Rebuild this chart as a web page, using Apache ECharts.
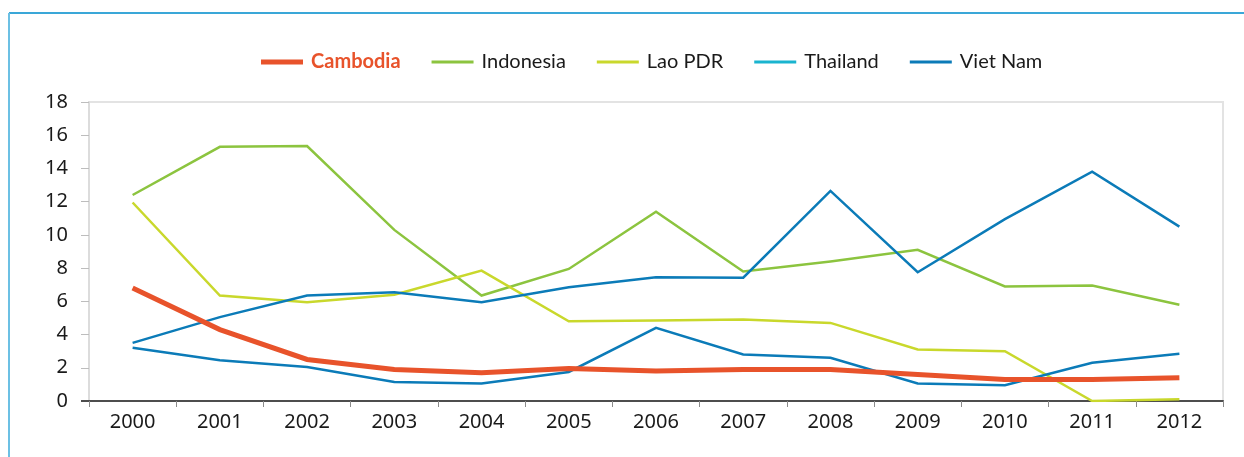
<!DOCTYPE html>
<html>
<head>
<meta charset="utf-8">
<script src="https://cdn.jsdelivr.net/npm/echarts@6/dist/echarts.min.js"></script>
<style>
  html, body { margin: 0; padding: 0; background: #fff; }
  #chart { width: 1244px; height: 457px; }
</style>
</head>
<body>
<div id="chart"></div>
<script>
// Years on the category axis
const years = ['2000', '2001', '2002', '2003', '2004', '2005', '2006',
               '2007', '2008', '2009', '2010', '2011', '2012'];

// Series values per year
const cambodia  = [6.8, 4.3, 2.5, 1.9, 1.7, 1.95, 1.8, 1.9, 1.9, 1.6, 1.3, 1.3, 1.4];
const indonesia = [12.4, 15.3, 15.35, 10.3, 6.35, 7.95, 11.4, 7.8, 8.4, 9.1, 6.9, 6.95, 5.8];
const laoPdr    = [11.95, 6.35, 5.95, 6.4, 7.85, 4.8, 4.85, 4.9, 4.7, 3.1, 3.0, 0.0, 0.1];
const thailand  = [3.2, 2.45, 2.05, 1.15, 1.05, 1.75, 4.4, 2.8, 2.6, 1.05, 0.95, 2.3, 2.85];
const vietNam   = [3.5, 5.05, 6.35, 6.55, 5.95, 6.85, 7.45, 7.42, 12.65, 7.75, 10.95, 13.8, 10.5];

// Y axis range
const yMin = 0, yMax = 18, yStep = 2;

const C_CAMBODIA = '#e8532b';
const C_INDONESIA = '#8cc43f';
const C_LAO = '#c9d82c';
const C_THAI_KEY = '#1ab4cf';
const C_BLUE = '#0b7bb8';

// Flat bar keys for the legend (thick one for Cambodia)
const KEY_THICK = 'path://M0,0h42v5h-42z';
const KEY_THIN = 'path://M0,0h42v3h-42z';

const chart = echarts.init(document.getElementById('chart'), null, { renderer: 'canvas' });

const baseLine = (name, data, color, width, z) => ({
  name, type: 'line', data,
  symbol: 'none', smooth: false, z,
  lineStyle: { color, width, cap: 'butt', join: 'miter' },
  itemStyle: { color },
  emphasis: { disabled: true }
});

chart.setOption({
  animation: false,
  textStyle: { fontFamily: 'Lato' },
  graphic: [
    { type: 'line', silent: true, shape: { x1: 9, y1: 13, x2: 1244, y2: 13 },
      style: { stroke: '#3aa7d8', lineWidth: 2 } },
    { type: 'line', silent: true, shape: { x1: 9, y1: 13, x2: 9, y2: 457 },
      style: { stroke: '#6cc0e4', lineWidth: 2 } },
    // dark zero tick left of the value axis
    { type: 'line', silent: true, z: 10, shape: { x1: 81, y1: 401, x2: 89, y2: 401 },
      style: { stroke: '#4d4d4d', lineWidth: 2 } }
  ],
  legend: {
    top: 47,
    left: 256,
    itemWidth: 42,
    itemHeight: 12,
    itemGap: 31,
    symbolKeepAspect: true,
    textStyle: { fontFamily: 'Lato', fontSize: 20, color: '#1a1a1a', padding: [0, 0, 0, 3] },
    data: [
      { name: 'Cambodia', icon: KEY_THICK, itemStyle: { color: C_CAMBODIA },
        textStyle: { color: C_CAMBODIA, fontWeight: 'bold' } },
      { name: 'Indonesia', icon: KEY_THIN, itemStyle: { color: C_INDONESIA } },
      { name: 'Lao PDR', icon: KEY_THIN, itemStyle: { color: C_LAO } },
      { name: 'Thailand', icon: KEY_THIN, itemStyle: { color: C_THAI_KEY } },
      { name: 'Viet Nam', icon: KEY_THIN, itemStyle: { color: C_BLUE } }
    ]
  },
  grid: {
    left: 89, right: 21, top: 102, bottom: 56,
    show: true, borderColor: '#e3e3e3', borderWidth: 2, backgroundColor: 'transparent'
  },
  xAxis: {
    type: 'category',
    data: years,
    boundaryGap: true,
    axisLine: { show: true, lineStyle: { color: '#4d4d4d', width: 2 } },
    axisTick: { show: true, length: 6, lineStyle: { color: '#8a8a8a', width: 1 } },
    axisLabel: { fontFamily: 'Noto Sans', fontSize: 20, color: '#1a1a1a', margin: 11 },
    splitLine: { show: false }
  },
  yAxis: {
    type: 'value',
    min: yMin, max: yMax, interval: yStep,
    axisLine: { show: true, lineStyle: { color: '#dcdcdc', width: 2 } },
    axisTick: { show: true, length: 8, lineStyle: { color: '#bdbdbd', width: 1 } },
    axisLabel: { fontFamily: 'Noto Sans', fontSize: 20, color: '#1a1a1a', margin: 21 },
    splitLine: { show: false }
  },
  series: [
    baseLine('Cambodia', cambodia, C_CAMBODIA, 5, 5),
    baseLine('Indonesia', indonesia, C_INDONESIA, 2.5, 3),
    baseLine('Lao PDR', laoPdr, C_LAO, 2.5, 3),
    baseLine('Thailand', thailand, C_BLUE, 2.5, 3),
    baseLine('Viet Nam', vietNam, C_BLUE, 2.5, 3)
  ]
});
</script>
</body>
</html>
